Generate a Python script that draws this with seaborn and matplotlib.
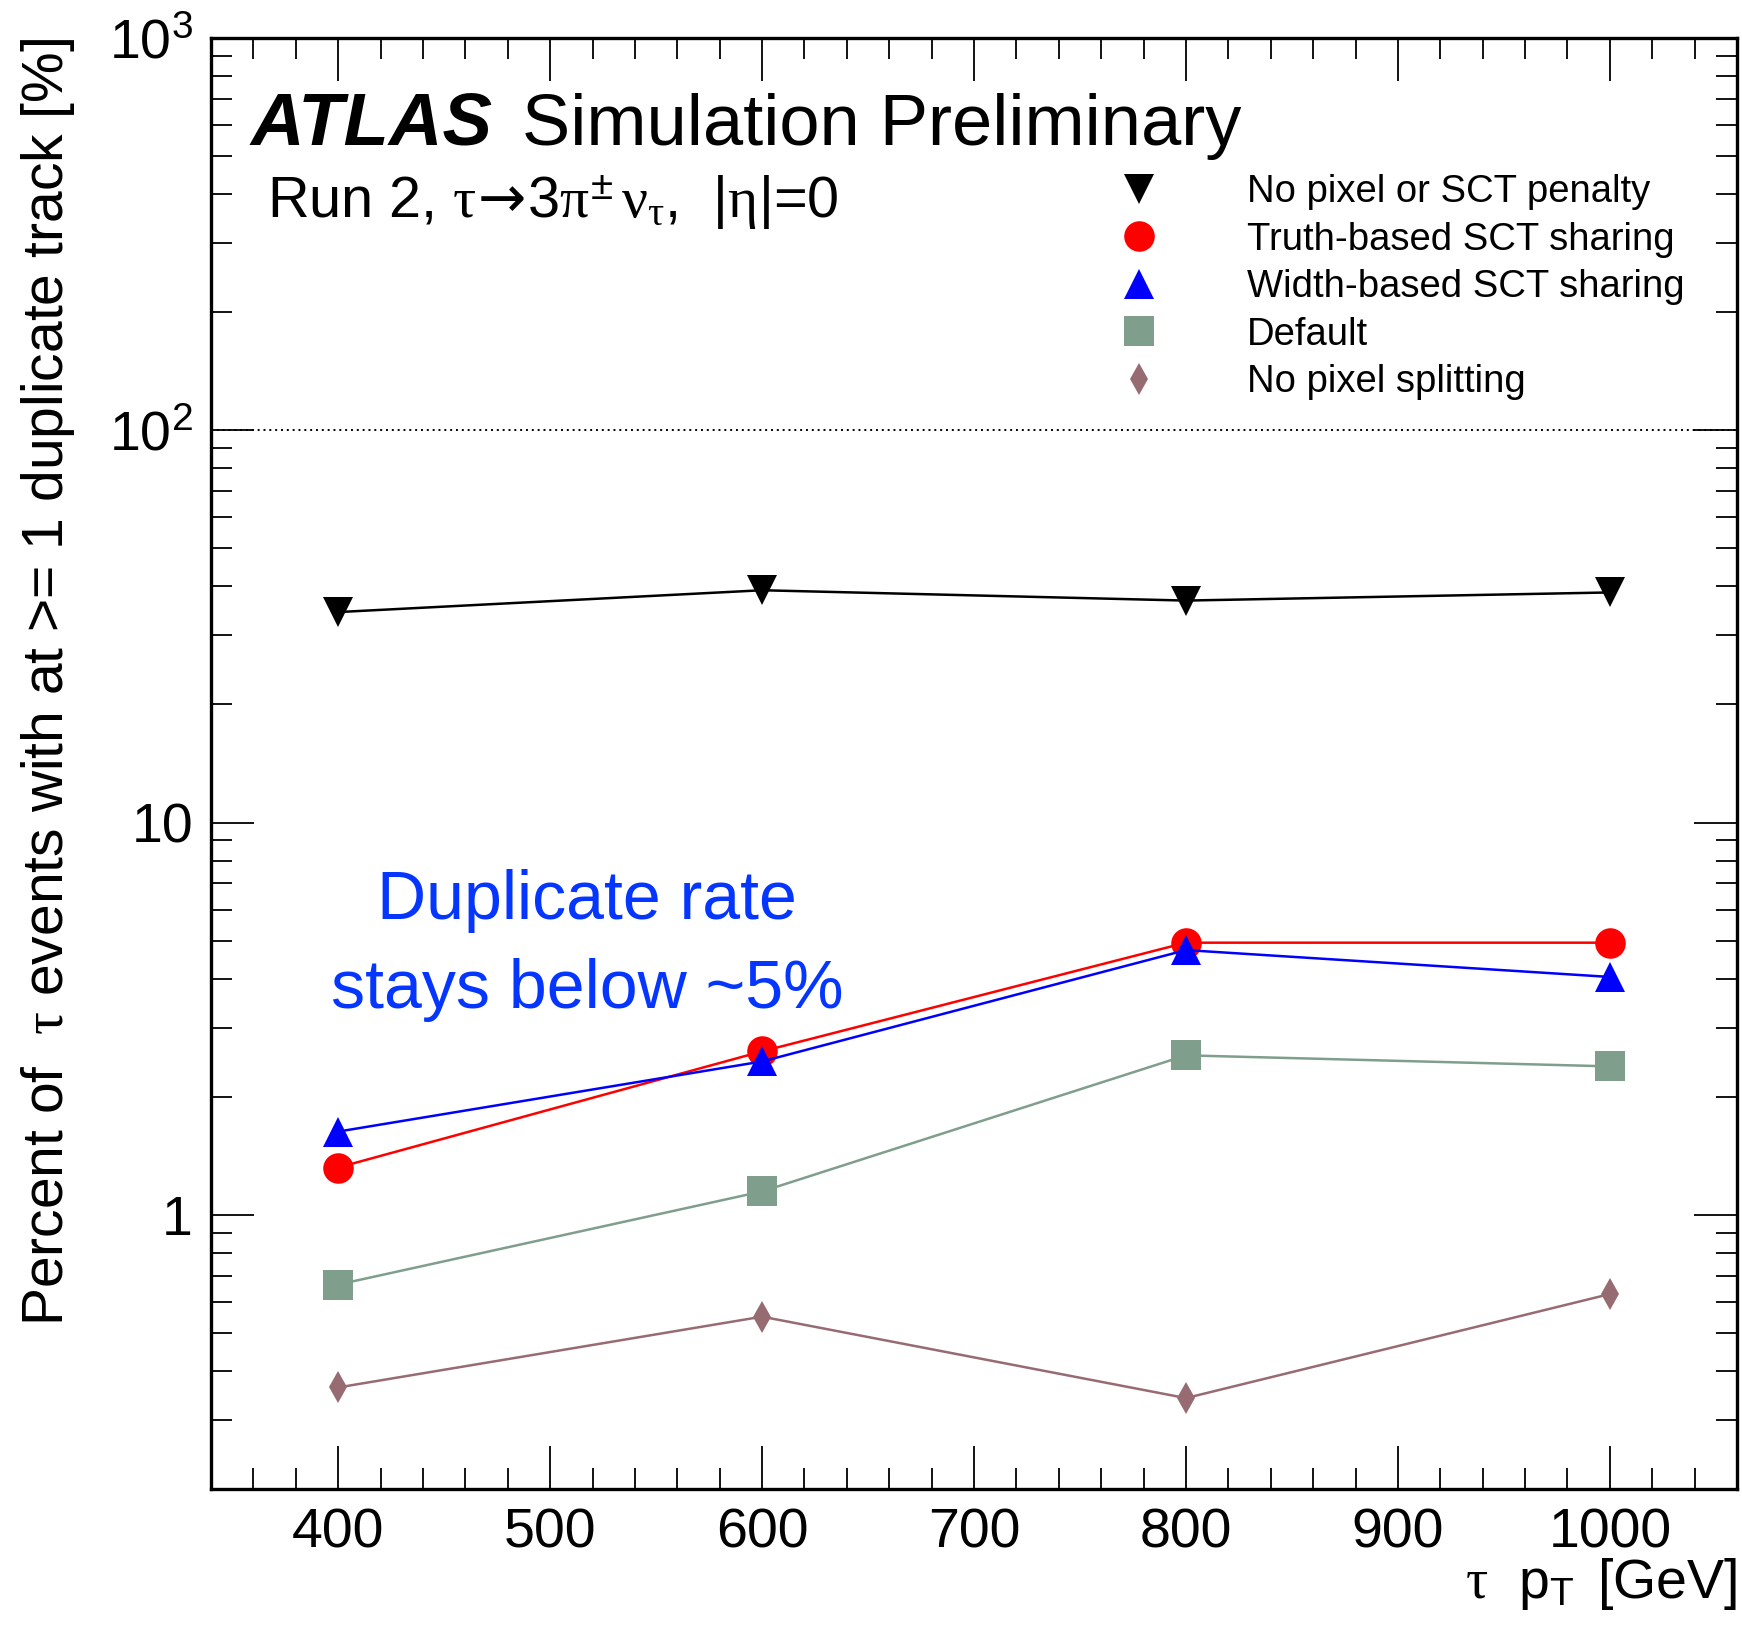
import matplotlib
matplotlib.use("Agg")
import matplotlib.pyplot as plt
from matplotlib.lines import Line2D
from matplotlib.ticker import FixedLocator, FixedFormatter, MultipleLocator, LogLocator, NullFormatter
import numpy as np
import pandas as pd
import seaborn as sns

# tau pT points [GeV]
tau_pt = [400, 600, 800, 1000]

# Percent of events with at least one duplicate track, per configuration
no_penalty = [34.4, 39.1, 36.8, 38.6]
truth_sct = [1.32, 2.61, 4.94, 4.94]
width_sct = [1.63, 2.46, 4.73, 4.04]
default_cfg = [0.664, 1.147, 2.55, 2.39]
no_pixel_split = [0.363, 0.550, 0.341, 0.628]

series_names = ["No pixel or SCT penalty", "Truth-based SCT sharing",
                "Width-based SCT sharing", "Default", "No pixel splitting"]
series_values = [no_penalty, truth_sct, width_sct, default_cfg, no_pixel_split]
series_colors = ["#000000", "#FF0000", "#0000FF", "#7F9E8C", "#976B72"]
series_markers = ["v", "o", "^", "s", "d"]
marker_sizes = [22, 22, 22, 22, 16]
draw_order = [0, 3, 4, 2, 1]

x_ticks = [400, 500, 600, 700, 800, 900, 1000]
x_tick_labels = ["400", "500", "600", "700", "800", "900", "1000"]
y_ticks = [1, 10, 100, 1000]
y_tick_labels = ["1", "10", r"$\mathregular{10^{2}}$", r"$\mathregular{10^{3}}$"]

sns.set_style("white")
plt.rcParams["font.family"] = ["Liberation Sans", "DejaVu Sans"]
plt.rcParams["mathtext.fontset"] = "custom"
plt.rcParams["mathtext.rm"] = "Liberation Sans"
plt.rcParams["mathtext.it"] = "Liberation Serif"
plt.rcParams["mathtext.bf"] = "Liberation Sans:bold"
plt.rcParams["mathtext.sf"] = "DejaVu Sans"
for key in ["text.color", "axes.labelcolor", "xtick.color", "ytick.color",
            "axes.edgecolor"]:
    plt.rcParams[key] = "black"

W, H = 1742, 1629
fig = plt.figure(figsize=(W / 100, H / 100), dpi=100)
ax_l, ax_r, ax_t, ax_b = 211, 1737, 38, 1489
ax = fig.add_axes([ax_l / W, 1 - ax_b / H, (ax_r - ax_l) / W, (ax_b - ax_t) / H])

df = pd.DataFrame({"pt": np.tile(tau_pt, len(series_names)),
                   "value": np.concatenate(series_values),
                   "config": np.repeat(series_names, len(tau_pt))})

for i in draw_order:
    sub = df[df["config"] == series_names[i]]
    sns.lineplot(data=sub, x="pt", y="value", color=series_colors[i],
                 marker=series_markers[i], markersize=marker_sizes[i],
                 markeredgewidth=0, linewidth=1.8, ax=ax, legend=False,
                 zorder=3 + i)

ax.axhline(100, color="black", linestyle=(0, (1, 2)), linewidth=1.4, zorder=2)

ax.set_yscale("log")
ax.set_xlim(340, 1060)
ax.set_ylim(0.2, 1000)

ax.xaxis.set_major_locator(FixedLocator(x_ticks))
ax.xaxis.set_major_formatter(FixedFormatter(x_tick_labels))
ax.xaxis.set_minor_locator(MultipleLocator(20))
ax.yaxis.set_major_locator(FixedLocator(y_ticks))
ax.yaxis.set_major_formatter(FixedFormatter(y_tick_labels))
ax.yaxis.set_minor_locator(LogLocator(base=10, subs=np.arange(2, 10)))
ax.yaxis.set_minor_formatter(NullFormatter())

ax.tick_params(which="major", direction="in", length=31, width=1.3,
               bottom=True, left=True, top=True, right=True,
               labelsize=40, pad=13, color="black", labelcolor="black")
ax.tick_params(which="minor", direction="in", length=15, width=1.3,
               bottom=True, left=True, top=True, right=True, color="black")
for sp in ax.spines.values():
    sp.set_visible(True)
    sp.set_color("black")
    sp.set_linewidth(2.4)

ax.set_xlabel(r"$\tau$  p$_{\mathregular{T}}\,$ [GeV]", fontsize=40, loc="right",
              color="black")
ax.xaxis.set_label_coords(1.0, -0.046)
ax.set_ylabel(r"Percent of  $\tau$ events with at >= 1 duplicate track [%]",
              fontsize=41, loc="top", color="black")
ax.yaxis.set_label_coords(-0.088, 1.0)

# Experiment label and process description
ax.text(0.0262, 0.926, "ATLAS", transform=ax.transAxes, fontsize=53.5,
        fontweight="bold", fontstyle="italic", va="baseline", ha="left")
ax.text(0.2038, 0.926, "Simulation Preliminary", transform=ax.transAxes,
        fontsize=52, va="baseline", ha="left")
ax.text(0.0367, 0.876,
        r"Run 2, $\tau\!\mathsf{\rightarrow}\!$3$\pi^{\pm}\,\nu_{\tau}$,  |$\eta$|=0",
        transform=ax.transAxes, fontsize=41.5, va="baseline", ha="left")

# Annotation
ax.text(0.2464, 0.3928, "Duplicate rate", transform=ax.transAxes, fontsize=49,
        color="#0536FF", va="baseline", ha="center")
ax.text(0.2464, 0.3315, "stays below ~5%", transform=ax.transAxes, fontsize=49,
        color="#0536FF", va="baseline", ha="center")

handles = [Line2D([], [], linestyle="none", marker=series_markers[i],
                  markersize=marker_sizes[i], markeredgewidth=0,
                  color=series_colors[i]) for i in range(len(series_names))]
ax.legend(handles, series_names, loc="upper left", bbox_to_anchor=(0.583, 0.906),
          frameon=False, fontsize=27.5, handlelength=2.0, handletextpad=1.83,
          labelspacing=0.3, borderpad=0, borderaxespad=0)

fig.savefig("out.png", dpi=100)
